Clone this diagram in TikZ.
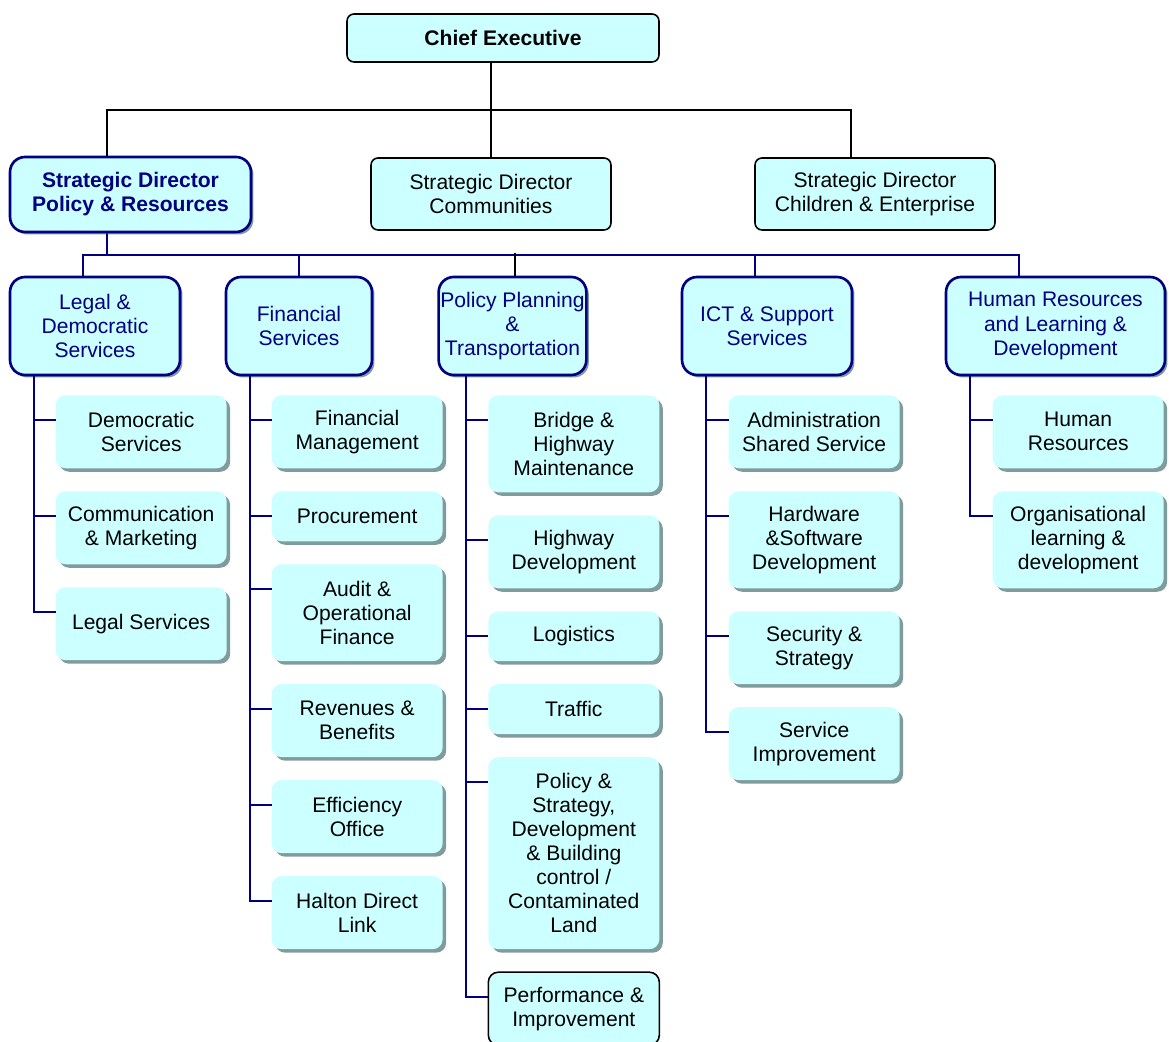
\documentclass[tikz,border=0pt]{standalone}
\usepackage{fontspec}
\setmainfont{Liberation Sans}
\usetikzlibrary{positioning, shadows}
\definecolor{boxfill}{HTML}{CCFFFF}
\definecolor{navy}{HTML}{000080}
\definecolor{shade}{HTML}{7F9B9B}
\newcommand\boxfont{\fontsize{12}{13.7}\selectfont}

\begin{document}
\begin{tikzpicture}[x=0.02cm, y=0.02cm, thick, font=\boxfont,
  topbox/.style={rectangle, rounded corners=0.14cm, draw=black, line width=0.9pt,
    fill=boxfill, align=center, inner sep=1pt, minimum width=4.8cm, minimum height=1.44cm},
  headbox/.style={rectangle, rounded corners=0.3cm, draw=navy, line width=1.5pt,
    fill=boxfill, text=navy, align=center, inner sep=1pt, minimum height=1.96cm,
    drop shadow={shadow xshift=0.05cm, shadow yshift=-0.05cm, fill=shade, opacity=1}},
  svcbase/.style={rectangle, rounded corners=0.2cm, fill=boxfill, align=center,
    inner sep=1pt, outer sep=0pt, minimum width=3.42cm, minimum height=1.46cm},
  svcbox/.style={svcbase,
    drop shadow={shadow xshift=0.07cm, shadow yshift=-0.07cm, fill=shade, opacity=1}},
  perfbox/.style={svcbase, draw=black, line width=0.9pt},
  blackline/.style={draw=black, line width=0.8pt},
  navyline/.style={draw=navy, line width=1.1pt}]
  \useasboundingbox (0,0) rectangle (1169,1041);

  % top of the chart
  \node[topbox, minimum width=6.24cm, minimum height=0.96cm, font=\boxfont\bfseries] (chief) at (503,1003) {Chief Executive};
  \node[headbox, minimum width=4.82cm, minimum height=1.5cm, font=\boxfont\bfseries] (pr) at (130.5,846.5) {Strategic Director\\Policy \& Resources};
  \node[topbox] (comm) at (491,847) {Strategic Director\\Communities};
  \node[topbox] (ce) at (875,847) {Strategic Director\\Children \& Enterprise};

  % divisions
  \node[headbox, minimum width=3.4cm] (legal) at (95,715) {Legal \&\\Democratic\\Services};
  \node[headbox, minimum width=2.92cm] (fin) at (299,715) {Financial\\Services};
  \node[headbox, minimum width=2.86cm] (ppt) at (512.5,715) {Policy Planning\\\&\\Transportation};
  \node[headbox, minimum width=3.4cm] (ict) at (767,715) {ICT \& Support\\Services};
  \node[headbox, minimum width=4.38cm] (hr) at (1055.5,715) {Human Resources\\and Learning \&\\Development};

  % Legal & Democratic
  \node[svcbox, below right=0.38cm and 0.94cm of legal.south west] (dem) {Democratic\\Services};
  \node[svcbox, below=0.46cm of dem] (comms) {Communication\\\& Marketing};
  \node[svcbox, below=0.46cm of comms] (legsvc) {Legal Services};

  % Financial
  \node[svcbox, below right=0.38cm and 0.94cm of fin.south west] (finman) {Financial\\Management};
  \node[svcbox, minimum height=1cm, below=0.46cm of finman] (procure) {Procurement};
  \node[svcbox, minimum height=1.94cm, below=0.46cm of procure] (audit) {Audit \&\\Operational\\Finance};
  \node[svcbox, below=0.46cm of audit] (revben) {Revenues \&\\Benefits};
  \node[svcbox, below=0.46cm of revben] (effic) {Efficiency\\Office};
  \node[svcbox, below=0.46cm of effic] (halton) {Halton Direct\\Link};

  % Policy Planning
  \node[svcbox, minimum height=1.94cm, below right=0.38cm and 1.02cm of ppt.south west] (bridge) {Bridge \&\\Highway\\Maintenance};
  \node[svcbox, below=0.46cm of bridge] (hwdev) {Highway\\Development};
  \node[svcbox, minimum height=1cm, below=0.46cm of hwdev] (logist) {Logistics};
  \node[svcbox, minimum height=1cm, below=0.46cm of logist] (traffic) {Traffic};
  \node[svcbox, minimum height=3.84cm, below=0.46cm of traffic] (polstrat) {Policy \&\\Strategy,\\Development\\\& Building\\control /\\Contaminated\\Land};
  \node[perfbox, below=0.46cm of polstrat] (perf) {Performance \&\\Improvement};

  % ICT
  \node[svcbox, below right=0.38cm and 0.96cm of ict.south west] (admin) {Administration\\Shared Service};
  \node[svcbox, minimum height=1.94cm, below=0.46cm of admin] (hwsw) {Hardware\\\&Software\\Development};
  \node[svcbox, below=0.46cm of hwsw] (secstrat) {Security \&\\Strategy};
  \node[svcbox, below=0.46cm of secstrat] (servimp) {Service\\Improvement};

  % HR
  \node[svcbox, below right=0.38cm and 0.96cm of hr.south west] (hres) {Human\\Resources};
  \node[svcbox, minimum height=1.94cm, below=0.46cm of hres] (orglearn) {Organisational\\learning \&\\development};

  % connectors
  \coordinate (topbus) at (491,931);
  \coordinate (midbus) at (107,786);
  \draw[blackline] (chief.south -| comm.north) -- (comm.north);
  \draw[blackline] ([xshift=-0.47cm]pr.north) |- (topbus) -| ([xshift=-0.48cm]ce.north);
  \draw[navyline] ([xshift=-0.47cm]pr.south) -- (midbus);
  \draw[navyline] ([xshift=-0.24cm]legal.north) |- (midbus) -| ([xshift=-0.73cm]hr.north);
  \draw[navyline] (fin.north) -- (fin.north |- midbus);
  \draw[blackline] ([xshift=0.05cm]ppt.north) -- ++(0,0.46cm);
  \draw[navyline] ([xshift=-0.24cm]ict.north) -- ([xshift=-0.24cm]ict.north |- midbus);

  \draw[navyline] ([xshift=0.5cm]legal.south west) |- ([yshift=-0.5cm]dem.north west);
  \draw[navyline] ([xshift=0.5cm]legal.south west) |- ([yshift=-0.5cm]comms.north west);
  \draw[navyline] ([xshift=0.5cm]legal.south west) |- ([yshift=-0.5cm]legsvc.north west);

  \coordinate (finbus) at ([xshift=0.5cm]fin.south west);
  \coordinate (haltonin) at ([yshift=-0.5cm]halton.north west);
  \draw[navyline] (finbus) |- ([yshift=-0.5cm]finman.north west);
  \draw[navyline] (finbus) |- ([yshift=-0.5cm]procure.north west);
  \draw[navyline] (finbus) |- ([yshift=-0.5cm]audit.north west);
  \draw[navyline] (finbus) |- ([yshift=-0.5cm]revben.north west);
  \draw[navyline] (finbus) |- ([yshift=-0.5cm]effic.north west);
  \draw[navyline] (finbus) |- (haltonin);
  \draw[blackline] (haltonin) -- (haltonin -| finbus);

  \draw[navyline] ([xshift=0.58cm]ppt.south west) |- ([yshift=-0.5cm]bridge.north west);
  \draw[navyline] ([xshift=0.58cm]ppt.south west) |- ([yshift=-0.5cm]hwdev.north west);
  \draw[navyline] ([xshift=0.58cm]ppt.south west) |- ([yshift=-0.5cm]logist.north west);
  \draw[navyline] ([xshift=0.58cm]ppt.south west) |- ([yshift=-0.5cm]traffic.north west);
  \draw[navyline] ([xshift=0.58cm]ppt.south west) |- ([yshift=-0.5cm]polstrat.north west);
  \draw[navyline] ([xshift=0.58cm]ppt.south west) |- ([yshift=-0.5cm]perf.north west);

  \draw[navyline] ([xshift=0.5cm]ict.south west) |- ([yshift=-0.5cm]admin.north west);
  \draw[navyline] ([xshift=0.5cm]ict.south west) |- ([yshift=-0.5cm]hwsw.north west);
  \draw[navyline] ([xshift=0.5cm]ict.south west) |- ([yshift=-0.5cm]secstrat.north west);
  \draw[navyline] ([xshift=0.5cm]ict.south west) |- ([yshift=-0.5cm]servimp.north west);

  \draw[navyline] ([xshift=0.5cm]hr.south west) |- ([yshift=-0.5cm]hres.north west);
  \draw[navyline] ([xshift=0.5cm]hr.south west) |- ([yshift=-0.5cm]orglearn.north west);
\end{tikzpicture}
\end{document}
